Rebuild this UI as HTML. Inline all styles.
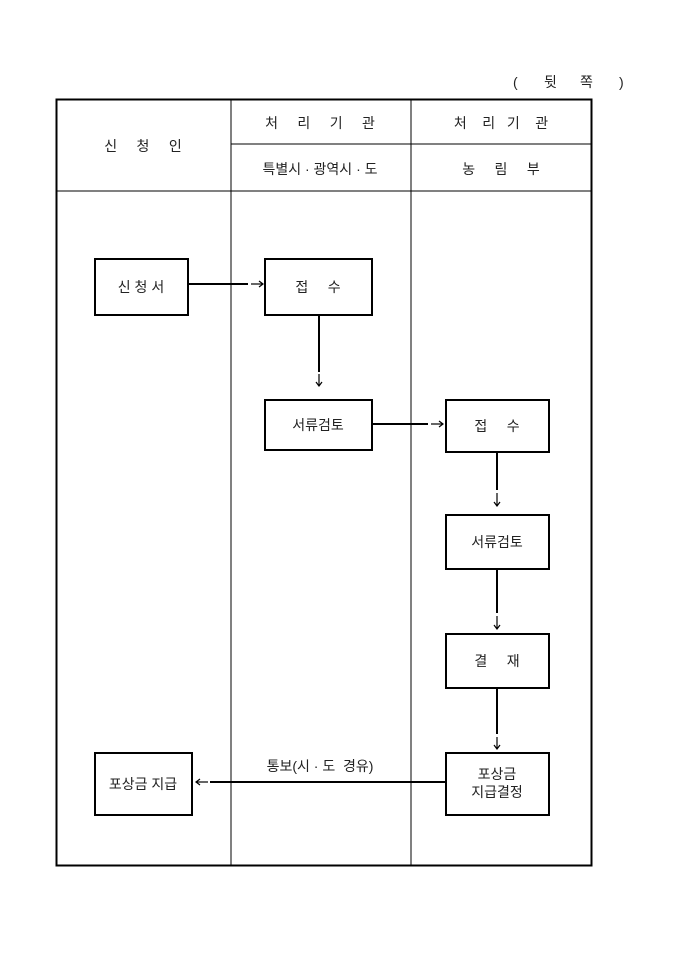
<!DOCTYPE html>
<html><head><meta charset="utf-8"><style>
body{margin:0;background:#fff;}
svg{display:block;}
text{font-family:"Liberation Sans","Noto Sans CJK KR",sans-serif;font-size:14px;fill:#222;}
</style></head><body>
<svg width="680" height="962" xmlns="http://www.w3.org/2000/svg">
<text x="513" y="87">(</text><text x="544" y="87">뒷</text><text x="580" y="87">쪽</text><text x="619" y="87">)</text>
<g stroke="#000" fill="none">
<rect x="56.5" y="99.5" width="535" height="766" stroke-width="2"/>
<line x1="231" y1="100" x2="231" y2="865" stroke-width="1"/>
<line x1="411" y1="100" x2="411" y2="865" stroke-width="1"/>
<line x1="231" y1="144" x2="591" y2="144" stroke-width="1"/>
<line x1="56" y1="191" x2="591" y2="191" stroke-width="1"/>
<g stroke-width="2">
<rect x="95" y="259" width="93" height="56"/>
<rect x="265" y="259" width="107" height="56"/>
<rect x="265" y="400" width="107" height="50"/>
<rect x="446" y="400" width="103" height="52"/>
<rect x="446" y="515" width="103" height="54"/>
<rect x="446" y="634" width="103" height="54"/>
<rect x="446" y="753" width="103" height="62"/>
<rect x="95" y="753" width="97" height="62"/>
<line x1="188" y1="284" x2="248" y2="284"/>
<line x1="319" y1="315" x2="319" y2="372"/>
<line x1="372" y1="424" x2="428" y2="424"/>
<line x1="497" y1="452" x2="497" y2="490"/>
<line x1="497" y1="569" x2="497" y2="613"/>
<line x1="497" y1="688" x2="497" y2="734"/>
<line x1="446" y1="782" x2="210" y2="782"/>
</g>
<g stroke-width="1.2">
<line x1="251" y1="284" x2="263" y2="284"/><path d="M259 281 L263 284 L259 287"/>
<line x1="319" y1="374" x2="319" y2="386"/><path d="M316 382 L319 386 L322 382"/>
<line x1="431" y1="424" x2="443" y2="424"/><path d="M439 421 L443 424 L439 427"/>
<line x1="497" y1="493" x2="497" y2="506"/><path d="M494 502 L497 506 L500 502"/>
<line x1="497" y1="616" x2="497" y2="629"/><path d="M494 625 L497 629 L500 625"/>
<line x1="497" y1="737" x2="497" y2="749"/><path d="M494 745 L497 749 L500 745"/>
<line x1="208" y1="782" x2="196" y2="782"/><path d="M200 779 L196 782 L200 785"/>
</g>
</g>
<g text-anchor="middle">
<text x="143" y="151" xml:space="preserve">신     청     인</text>
<text x="320" y="128" xml:space="preserve">처     리     기     관</text>
<text x="501" y="128" xml:space="preserve">처    리   기    관</text>
<text x="320" y="174">특별시 · 광역시 · 도</text>
<text x="501" y="174" xml:space="preserve">농     림     부</text>
<text x="141" y="292" xml:space="preserve">신 청 서</text>
<text x="318" y="292" xml:space="preserve">접     수</text>
<text x="318" y="430">서류검토</text>
<text x="497" y="431" xml:space="preserve">접     수</text>
<text x="497" y="547">서류검토</text>
<text x="497" y="666" xml:space="preserve">결     재</text>
<text x="497" y="779">포상금</text>
<text x="497" y="797">지급결정</text>
<text x="143" y="789">포상금 지급</text>
<text x="320" y="771" xml:space="preserve">통보(시 · 도  경유)</text>
</g>
</svg>
</body></html>
